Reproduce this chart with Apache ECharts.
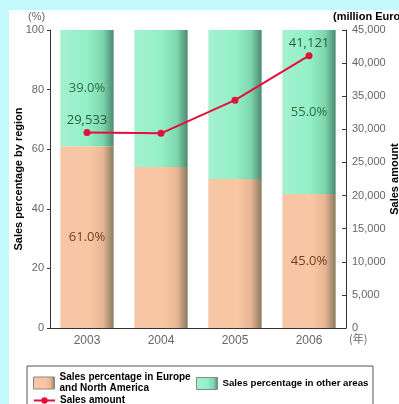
<!DOCTYPE html>
<html>
<head>
<meta charset="utf-8">
<script src="https://cdn.jsdelivr.net/npm/echarts@6/dist/echarts.min.js"></script>
<style>
  html, body { margin: 0; padding: 0; background: #c4f9fc; }
  #chart { width: 399px; height: 404px; }
</style>
</head>
<body>
<div id="chart"></div>
<script>
// Regional sales split (%) and total sales (million Euro), 2003-2006
const years = ['2003', '2004', '2005', '2006'];
const europeNAPct = [61, 54, 50, 45];
const otherPct = [39, 46, 50, 55];
const salesAmount = [29533, 29400, 34400, 41121];
const leftTicks = [0, 20, 40, 60, 80, 100];
const rightTicks = [0, 5000, 10000, 15000, 20000, 25000, 30000, 35000, 40000, 45000];
// bars / points that carry a value label
const labelled = [0, 3];

const NAME_EU = 'Sales percentage in Europe and North America';
const NAME_OTHER = 'Sales percentage in other areas';
const NAME_SALES = 'Sales amount';

const tickFont = { fontFamily: 'Liberation Sans, Arial, sans-serif', fontSize: 11, color: '#666' };
const legendFont = { fontFamily: 'Liberation Sans, Arial, sans-serif', fontWeight: 'bold', fontSize: 10, color: '#000', lineHeight: 11 };

const orangeFill = new echarts.graphic.LinearGradient(0, 0, 1, 0, [
  { offset: 0, color: '#f6c6a6' },
  { offset: 0.55, color: '#fac6a2' },
  { offset: 0.8, color: '#e8b694' },
  { offset: 1, color: '#8a7a60' }
]);
const greenFill = new echarts.graphic.LinearGradient(0, 0, 1, 0, [
  { offset: 0, color: '#a4f0d0' },
  { offset: 0.5, color: '#94f0c6' },
  { offset: 0.8, color: '#7ed6ae' },
  { offset: 1, color: '#4a8a70' }
]);

function pctData(values, color) {
  return values.map((v, i) => ({
    value: v,
    label: {
      show: labelled.includes(i),
      position: 'inside',
      formatter: v.toFixed(1) + '%',
      color: color,
      fontFamily: 'Open Sans, DejaVu Sans, sans-serif',
      fontSize: 13
    }
  }));
}

const chart = echarts.init(document.getElementById('chart'));
chart.setOption({
  animation: false,
  backgroundColor: 'transparent',
  graphic: [
    { type: 'rect', z: -10, shape: { x: 9, y: 10, width: 400, height: 400 }, style: { fill: '#ffffff' } },
    { type: 'rect', z: -5, shape: { x: 27, y: 366, width: 346, height: 60 }, style: { fill: '#ffffff', stroke: '#555', lineWidth: 1 } },
    { type: 'text', left: 28, top: 11, style: { text: '(%)', font: '11px "Liberation Sans", Arial, sans-serif', fill: '#666' } },
    { type: 'text', left: 333, top: 11, style: { text: '(million Euro)', font: 'bold 11px "Liberation Sans", Arial, sans-serif', fill: '#000' } },
    { type: 'text', left: 349, top: 333, style: { text: '(年)', font: '11px "Noto Sans CJK JP", sans-serif', fill: '#666' } }
  ],
  grid: { left: 50, right: 53, top: 30, bottom: 76, outerBoundsMode: 'none', containLabel: false },
  legend: [
    {
      data: [NAME_EU], left: 28, top: 367, icon: 'rect', itemWidth: 21, itemHeight: 12, itemGap: 4,
      formatter: () => 'Sales percentage in Europe\nand North America',
      textStyle: legendFont, itemStyle: { borderColor: '#888', borderWidth: 1 }
    },
    {
      data: [NAME_OTHER], left: 191, top: 372, icon: 'rect', itemWidth: 21, itemHeight: 12,
      textStyle: Object.assign({}, legendFont, { fontSize: 9.7 }),
      itemStyle: { borderColor: '#888', borderWidth: 1 }
    },
    {
      data: [NAME_SALES], left: 28, top: 390, itemWidth: 21, itemHeight: 8,
      textStyle: legendFont
    }
  ],
  xAxis: {
    type: 'category',
    data: years,
    axisLine: { lineStyle: { color: '#333', width: 1 } },
    axisTick: { inside: true, length: 3, lineStyle: { color: '#333' } },
    axisLabel: { fontFamily: tickFont.fontFamily, fontSize: 12, color: '#666', margin: 7 }
  },
  yAxis: [
    {
      type: 'value', min: 0, max: 100, interval: 20,
      name: 'Sales percentage by region', nameLocation: 'middle', nameGap: 26, nameMoveOverlap: false,
      nameTextStyle: { fontFamily: 'Liberation Sans, Arial, sans-serif', fontWeight: 'bold', fontSize: 11, color: '#000' },
      axisLine: { show: true, lineStyle: { color: '#333' } },
      axisTick: { show: true, length: 3, lineStyle: { color: '#333' } },
      axisLabel: Object.assign({ margin: 6, formatter: v => leftTicks.includes(v) ? String(v) : '' }, tickFont),
      splitLine: { show: false }
    },
    {
      type: 'value', min: 0, max: 45000, interval: 5000, position: 'right',
      name: 'Sales amount', nameLocation: 'middle', nameGap: 43, nameMoveOverlap: false,
      nameTextStyle: { fontFamily: 'Liberation Sans, Arial, sans-serif', fontWeight: 'bold', fontSize: 11, color: '#000' },
      axisLine: { show: true, lineStyle: { color: '#333' } },
      axisTick: { show: true, inside: true, length: 4, lineStyle: { color: '#333' } },
      axisLabel: Object.assign({ margin: 6, formatter: v => rightTicks.includes(v) ? v.toLocaleString('en-US') : '' }, tickFont),
      splitLine: { show: false }
    }
  ],
  series: [
    {
      name: NAME_EU, type: 'bar', stack: 'share', barWidth: '72%',
      itemStyle: { color: orangeFill },
      data: pctData(europeNAPct, '#6e3e22')
    },
    {
      name: NAME_OTHER, type: 'bar', stack: 'share',
      itemStyle: { color: greenFill },
      data: pctData(otherPct, '#2c6e44')
    },
    {
      name: NAME_SALES, type: 'line', yAxisIndex: 1, z: 5,
      symbol: 'circle', symbolSize: 7,
      lineStyle: { color: '#e2103c', width: 2 },
      itemStyle: { color: '#e2103c' },
      data: salesAmount.map((v, i) => ({
        value: v,
        label: {
          show: labelled.includes(i), position: 'top', distance: 2,
          formatter: v.toLocaleString('en-US'),
          color: '#245e3a', fontFamily: 'Open Sans, DejaVu Sans, sans-serif', fontSize: 13
        }
      }))
    }
  ]
});
</script>
</body>
</html>
